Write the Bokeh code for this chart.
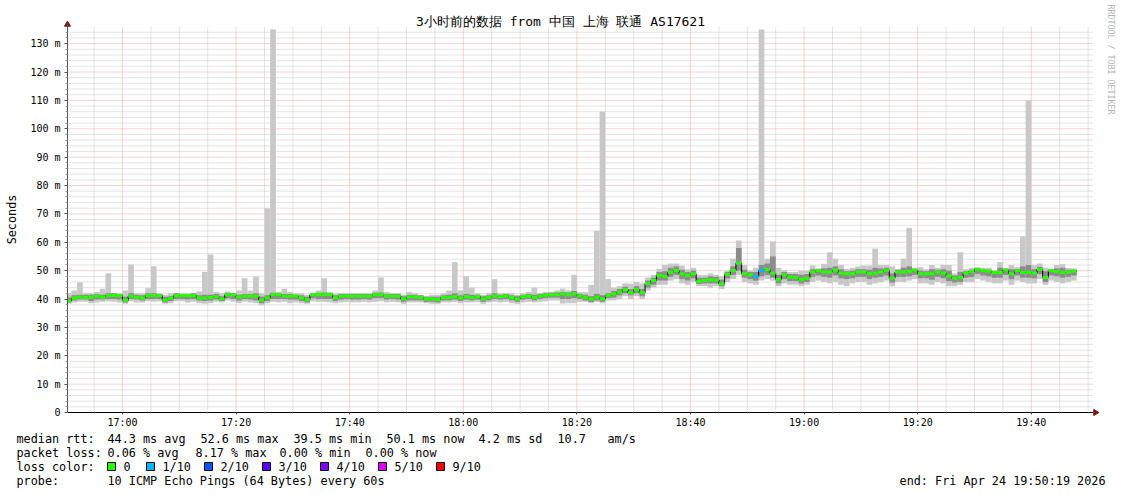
import math
from bokeh.plotting import figure
from bokeh.models import Range1d, FixedTicker, Label, ColumnDataSource
from bokeh.embed import file_html
from bokeh.resources import INLINE
from bokeh.core.properties import value

# ---------------- data ----------------
title_text = "3小时前的数据 from 中国 上海 联通 AS17621"

# one value per minute, bar j covers 16:50+j .. 16:51+j
median_ms = [
    39.3, 40.3, 40.6, 40.6, 40.6, 41.0, 40.6, 41.2, 41.2, 41.2,
    39.5, 41.0, 40.6, 40.3, 41.2, 41.2, 41.2, 39.6, 40.2, 41.2,
    41.2, 41.2, 41.2, 40.3, 40.3, 40.5, 40.8, 40.0, 41.5, 41.5,
    40.7, 41.0, 41.0, 41.0, 39.6, 40.3, 41.5, 41.5, 41.0, 41.0,
    41.0, 40.4, 39.7, 41.5, 41.5, 41.5, 41.5, 40.4, 41.0, 41.0,
    41.0, 41.0, 41.0, 41.0, 41.5, 41.5, 41.0, 41.0, 41.0, 40.0,
    40.7, 40.7, 40.5, 40.0, 40.0, 39.8, 40.5, 40.5, 40.8, 40.3,
    40.8, 40.5, 40.8, 40.0, 40.5, 41.0, 40.8, 41.0, 40.5, 40.0,
    40.8, 41.0, 40.5, 41.0, 41.3, 41.5, 41.5, 41.8, 41.5, 41.8,
    41.0, 40.6, 40.0, 40.6, 40.0, 41.2, 41.8, 42.4, 43.3, 42.2,
    43.3, 42.2, 45.4, 46.5, 48.3, 47.9, 49.4, 50.0, 48.8, 48.3,
    48.8, 46.2, 46.5, 46.7, 46.7, 45.3, 48.6, 50.0, 52.6, 48.9,
    48.5, 47.9, 50.0, 50.4, 49.1, 46.9, 48.5, 47.7, 47.5, 46.9,
    47.3, 49.5, 50.0, 49.5, 49.5, 50.2, 49.1, 48.9, 48.9, 49.5,
    49.5, 48.9, 49.1, 49.5, 50.0, 47.3, 49.5, 49.5, 49.7, 50.2,
    48.9, 48.9, 48.9, 49.5, 49.1, 48.1, 47.3, 47.6, 49.1, 49.7,
    50.5, 50.0, 49.8, 49.3, 49.3, 50.2, 48.9, 50.0, 49.3, 49.3,
    49.1, 50.4, 47.6, 50.0, 49.7, 49.3, 49.5, 49.8,
]
max_ms = [
    42.0, 43.0, 45.9, 42.0, 42.0, 42.5, 43.6, 49.1, 42.0, 42.0,
    43.0, 52.2, 42.0, 42.0, 43.8, 51.5, 42.0, 41.5, 42.0, 42.0,
    42.0, 42.0, 42.0, 42.6, 49.5, 55.7, 42.5, 42.0, 42.6, 42.0,
    43.0, 47.3, 43.0, 47.9, 42.0, 72.0, 135.0, 42.5, 43.6, 42.5,
    42.0, 42.0, 41.5, 42.0, 43.0, 47.3, 42.5, 42.0, 42.0, 42.0,
    42.0, 42.0, 42.0, 42.0, 43.0, 47.6, 42.5, 42.0, 42.0, 41.5,
    42.5, 42.0, 41.5, 41.0, 41.5, 41.5, 42.0, 43.0, 53.0, 43.0,
    48.0, 44.0, 42.0, 41.5, 42.0, 47.0, 42.0, 42.0, 42.0, 41.5,
    42.0, 42.5, 44.0, 42.0, 42.5, 42.5, 43.0, 43.7, 43.0, 48.5,
    42.4, 42.4, 45.0, 64.0, 106.0, 47.0, 44.0, 44.5, 45.5, 45.4,
    46.0, 45.5, 47.6, 48.5, 50.6, 52.0, 52.5, 52.5, 51.8, 50.5,
    51.0, 48.5, 48.5, 49.0, 48.5, 48.0, 50.0, 54.2, 60.6, 52.0,
    50.0, 51.0, 135.0, 54.2, 60.3, 51.0, 50.2, 49.5, 49.5, 50.0,
    50.0, 51.8, 50.8, 52.4, 56.5, 54.2, 52.0, 50.6, 51.0, 51.5,
    51.8, 51.8, 57.7, 52.0, 52.0, 51.5, 50.5, 54.2, 65.0, 51.0,
    51.2, 50.5, 52.0, 51.0, 52.0, 52.0, 49.0, 56.5, 50.5, 51.0,
    51.0, 51.0, 51.0, 50.2, 53.0, 51.0, 52.0, 51.2, 62.0, 110.0,
    52.0, 52.5, 51.0, 50.3, 52.0, 52.3, 51.0, 50.8,
]
min_ms = [
    38.3, 38.8, 39.0, 39.0, 38.5, 38.8, 39.0, 39.2, 39.0, 38.8,
    38.3, 39.2, 38.8, 38.8, 39.2, 39.0, 39.2, 38.3, 38.5, 39.2,
    39.2, 38.8, 39.0, 38.5, 38.3, 38.5, 39.0, 38.8, 39.5, 39.0,
    38.5, 39.0, 38.8, 38.5, 37.8, 38.5, 39.0, 38.8, 39.0, 38.5,
    38.8, 38.5, 38.3, 39.2, 39.0, 39.0, 38.8, 38.5, 38.8, 39.0,
    38.8, 38.8, 39.0, 38.8, 39.0, 39.2, 38.8, 39.0, 38.8, 38.3,
    38.8, 38.8, 38.8, 38.5, 38.3, 38.3, 38.8, 38.8, 39.0, 38.5,
    38.8, 38.8, 39.0, 38.3, 38.8, 39.0, 38.8, 39.0, 38.5, 38.3,
    38.8, 39.0, 38.8, 39.0, 39.2, 39.5, 39.5, 38.4, 38.5, 38.5,
    39.0, 39.0, 38.5, 39.0, 38.5, 39.5, 39.5, 40.0, 41.0, 40.0,
    41.0, 40.0, 43.0, 44.0, 45.0, 45.0, 46.5, 47.0, 45.5, 45.0,
    46.0, 44.5, 44.5, 44.0, 44.5, 43.5, 46.0, 47.0, 48.5, 46.0,
    45.5, 45.0, 46.5, 47.0, 46.5, 44.5, 45.5, 45.0, 45.0, 44.5,
    45.0, 46.0, 46.5, 46.0, 45.5, 46.0, 45.0, 44.5, 45.5, 46.0,
    46.0, 45.0, 45.5, 46.0, 46.5, 44.5, 46.0, 46.0, 46.5, 47.0,
    45.5, 45.5, 45.0, 46.0, 45.5, 44.5, 44.5, 45.0, 46.0, 46.0,
    47.0, 46.5, 46.0, 45.5, 45.5, 46.5, 45.0, 46.5, 46.0, 45.5,
    45.5, 47.0, 45.0, 46.5, 46.0, 45.5, 46.0, 46.5,
]
inner_lo_ms = [
    38.8, 39.5, 39.8, 39.8, 39.3, 39.8, 39.8, 40.0, 40.0, 39.8,
    38.8, 40.0, 39.8, 39.5, 40.0, 40.0, 40.0, 38.8, 39.3, 40.0,
    40.0, 39.8, 40.0, 39.5, 39.3, 39.5, 39.8, 39.3, 40.3, 40.0,
    39.5, 40.0, 39.8, 39.5, 38.5, 39.3, 40.0, 40.0, 40.0, 39.8,
    39.8, 39.3, 38.8, 40.3, 40.0, 40.0, 40.0, 39.3, 39.8, 40.0,
    39.8, 39.8, 40.0, 39.8, 40.3, 40.3, 39.8, 40.0, 39.8, 39.0,
    39.5, 39.5, 39.5, 39.0, 39.0, 38.8, 39.5, 39.5, 39.8, 39.3,
    39.8, 39.5, 39.8, 39.0, 39.5, 40.0, 39.8, 40.0, 39.5, 39.0,
    39.8, 40.0, 39.5, 40.0, 40.3, 40.5, 40.5, 40.0, 40.0, 40.3,
    40.0, 39.5, 39.0, 39.5, 39.0, 40.3, 40.5, 41.3, 42.0, 41.3,
    42.0, 41.0, 44.0, 45.0, 46.5, 46.5, 47.8, 48.5, 47.0, 46.5,
    47.3, 45.3, 45.5, 45.5, 45.5, 44.5, 47.3, 48.5, 50.0, 47.5,
    47.0, 46.5, 48.0, 48.5, 47.5, 45.5, 47.0, 46.3, 46.3, 45.5,
    46.0, 47.8, 48.3, 47.8, 47.5, 48.3, 47.3, 47.0, 47.3, 47.8,
    47.8, 47.0, 47.5, 47.8, 48.3, 45.8, 47.8, 47.8, 48.0, 48.5,
    47.3, 47.3, 46.8, 47.8, 47.3, 46.3, 45.8, 46.0, 47.5, 47.8,
    48.8, 48.3, 48.0, 47.5, 47.5, 48.5, 47.0, 48.3, 47.5, 47.5,
    47.3, 48.8, 46.0, 48.3, 48.0, 47.5, 47.8, 48.3,
]
inner_hi_ms = [
    40.5, 41.3, 41.5, 41.5, 41.5, 41.8, 41.5, 42.0, 42.0, 41.8,
    40.8, 42.0, 41.5, 41.3, 42.0, 42.0, 41.8, 40.8, 41.0, 42.0,
    41.8, 41.8, 42.0, 41.3, 41.5, 41.5, 41.8, 41.0, 42.2, 42.0,
    41.5, 41.8, 41.8, 42.0, 40.8, 41.3, 42.2, 42.0, 41.8, 41.8,
    41.5, 41.3, 40.8, 42.0, 42.2, 42.3, 42.0, 41.3, 41.8, 41.8,
    41.8, 41.8, 41.8, 41.8, 42.2, 42.3, 41.8, 41.8, 41.8, 41.0,
    41.5, 41.5, 41.3, 40.8, 40.8, 40.8, 41.3, 41.5, 42.0, 41.3,
    41.8, 41.5, 41.5, 41.0, 41.3, 42.0, 41.5, 41.8, 41.3, 41.0,
    41.5, 41.8, 41.5, 41.8, 42.0, 42.2, 42.3, 42.5, 42.3, 42.8,
    41.8, 41.5, 41.0, 41.8, 41.3, 42.0, 42.8, 43.5, 44.3, 43.5,
    44.5, 43.5, 46.5, 47.5, 49.5, 49.8, 51.0, 51.5, 50.3, 49.5,
    50.0, 47.5, 47.5, 48.0, 47.8, 46.8, 49.5, 51.5, 58.0, 50.3,
    49.5, 49.5, 52.0, 52.5, 55.0, 48.5, 49.5, 48.8, 48.8, 48.5,
    48.8, 50.5, 50.0, 50.8, 51.0, 51.5, 50.5, 49.8, 50.0, 50.5,
    50.5, 50.3, 51.0, 50.8, 51.0, 49.0, 50.3, 51.0, 51.5, 50.5,
    50.0, 49.8, 50.5, 50.3, 50.5, 50.0, 48.3, 49.5, 49.8, 50.3,
    50.5, 50.3, 50.3, 49.8, 51.0, 50.3, 50.5, 50.5, 51.5, 52.0,
    50.5, 51.3, 49.8, 50.3, 50.8, 51.0, 50.3, 50.3,
]
# lost pings out of 10 per minute
loss_tenths = [0] * 121 + [1, 1] + [0] * 55

x_tick_minutes = [10, 30, 50, 70, 90, 110, 130, 150, 170]
x_tick_labels = ["17:00", "17:20", "17:40", "18:00", "18:20", "18:40", "19:00", "19:20", "19:40"]
x_minor_minutes = [5, 15, 20, 25, 35, 40, 45, 55, 60, 65, 75, 80, 85, 95, 100, 105, 115, 120,
                   125, 135, 140, 145, 155, 160, 165, 175, 180]
y_tick_values = [0, 10, 20, 30, 40, 50, 60, 70, 80, 90, 100, 110, 120, 130]
y_tick_labels = ["0", "10 m", "20 m", "30 m", "40 m", "50 m", "60 m", "70 m", "80 m",
                 "90 m", "100 m", "110 m", "120 m", "130 m"]
y_minor_values = [v for v in range(2, 136, 2) if v % 10 != 0]

median_stats = ["44.3 ms avg", "52.6 ms max", "39.5 ms min", "50.1 ms now", "4.2 ms sd", "10.7", "am/s"]
loss_stats = ["0.06 % avg", "8.17 % max", "0.00 % min", "0.00 % now"]
loss_names = ["0", "1/10", "2/10", "3/10", "4/10", "5/10", "9/10"]
loss_palette = ["#26ff00", "#00b8ff", "#0059ff", "#5e00ff", "#7e00ff", "#dd00ff", "#ff0000"]
probe_text = "10 ICMP Echo Pings (64 Bytes) every 60s"
end_text = "end: Fri Apr 24 19:50:19 2026"

# ---------------- geometry (page pixels) ----------------
W, H = 1121, 494
FL, FR, FT, FB = 67, 1092, 27, 412          # chart area
PX_PER_MIN = 5.68
PX_PER_MS = 2.8375
X0 = 19 / 60.0                               # 16:50:19, minutes after 16:50


def dx(px):
    return X0 + (px - FL) / PX_PER_MIN


def dy(py):
    return (FB - py) / PX_PER_MS


XR, YT = dx(FR), dy(FT)
MONO = "DejaVu Sans Mono"

p = figure(width=W, height=H, x_range=Range1d(dx(0), dx(W)), y_range=Range1d(dy(H), dy(0)),
           output_backend="svg", toolbar_location=None, title=None,
           min_border_left=0, min_border_right=0, min_border_top=0, min_border_bottom=0)
p.outline_line_color = None
p.background_fill_color = "white"
p.border_fill_color = "white"
p.grid.visible = False

# grid (dotted), limited to the chart area
p.segment(x0=x_minor_minutes, y0=[0] * len(x_minor_minutes), x1=x_minor_minutes,
          y1=[YT] * len(x_minor_minutes), line_color="#c8c8c8", line_dash="1 1", line_width=1)
p.segment(x0=[X0] * len(y_minor_values), y0=y_minor_values, x1=[XR] * len(y_minor_values),
          y1=y_minor_values, line_color="#c8c8c8", line_dash="1 1", line_width=1)
p.segment(x0=x_tick_minutes, y0=[0] * len(x_tick_minutes), x1=x_tick_minutes,
          y1=[YT] * len(x_tick_minutes), line_color="#f4a4a4", line_dash="1 1", line_width=1)
p.segment(x0=[X0] * len(y_tick_values[1:]), y0=y_tick_values[1:], x1=[XR] * len(y_tick_values[1:]),
          y1=y_tick_values[1:], line_color="#f4a4a4", line_dash="1 1", line_width=1)

# axes at fixed locations
p.xaxis.fixed_location = 0
p.xaxis.bounds = (X0, dx(1093))
p.yaxis.fixed_location = X0
p.yaxis.bounds = (0, dy(23))
p.xaxis.ticker = FixedTicker(ticks=x_tick_minutes, minor_ticks=x_minor_minutes)
p.xaxis.major_label_overrides = dict(zip(x_tick_minutes, x_tick_labels))
p.yaxis.ticker = FixedTicker(ticks=y_tick_values, minor_ticks=y_minor_values)
p.yaxis.major_label_overrides = dict(zip(y_tick_values, y_tick_labels))
for ax in (p.xaxis[0], p.yaxis[0]):
    ax.major_label_text_font = MONO
    ax.major_label_text_font_size = "10px"
    ax.major_label_text_color = "#000000"
    ax.major_tick_line_color = "#555555"
    ax.minor_tick_line_color = "#999999"
    ax.major_tick_in = 0
    ax.minor_tick_in = 0
p.xaxis.axis_line_color = "#000000"
p.yaxis.axis_line_color = "#555555"
p.xaxis.major_tick_out = 2
p.xaxis.minor_tick_out = 1
p.xaxis.major_label_standoff = 2
p.yaxis.major_tick_out = 3
p.yaxis.minor_tick_out = 2
p.yaxis.major_label_standoff = 4

# smoke and median
n = len(median_ms)
left = [max(m, X0) for m in range(n)]
right = [m + 1 for m in range(n)]
src = ColumnDataSource(dict(
    left=left, right=right, lo=min_ms, hi=max_ms, ilo=inner_lo_ms, ihi=inner_hi_ms,
    mlo=[v - 0.5 for v in median_ms], mhi=[v + 0.55 for v in median_ms],
    color=[loss_palette[k] for k in loss_tenths],
))
p.quad(left="left", right="right", bottom="lo", top="hi", source=src,
       fill_color="#c8c8c8", line_color=None)
p.quad(left="left", right="right", bottom="ilo", top="ihi", source=src,
       fill_color="#8c8c8c", line_color=None)
p.step(x=left + [n], y=median_ms + [median_ms[-1]], mode="after",
       line_color="#000000", line_width=1)
p.quad(left="left", right="right", bottom="mlo", top="mhi", source=src,
       fill_color="color", line_color=None)

# arrow heads at the axis ends
head_col = "#7f1414"
p.scatter(x=[X0], y=[dy(24)], marker="triangle", size=6, fill_color=head_col, line_color=head_col)
p.scatter(x=[dx(1095)], y=[0], marker="triangle", angle=-math.pi / 2, size=6,
          fill_color=head_col, line_color=head_col)

# texts around the chart
p.add_layout(Label(x=dx(560), y=dy(21), text=title_text, text_align="center",
                   text_baseline="middle", text_font=MONO, text_font_size="13px",
                   text_color="#000000"))
p.add_layout(Label(x=dx(11), y=dy(219), text="Seconds", angle=math.pi / 2,
                   text_align="center", text_baseline="middle", text_font=MONO,
                   text_font_size="11.8px", text_color="#000000"))
p.add_layout(Label(x=dx(1110.5), y=dy(59), text="RRDTOOL / TOBI OETIKER", angle=-math.pi / 2,
                   text_align="center", text_baseline="middle", text_font=MONO,
                   text_font_size="8.3px", text_color="#b4b4b4"))

# legend block
ROW = [438, 452, 466, 480]
tx, ty, tt = [], [], []
tx.append(16); ty.append(ROW[0]); tt.append("median rtt:")
for xx, s in zip([107, 200, 293, 386, 478, 557, 607], median_stats):
    tx.append(xx); ty.append(ROW[0]); tt.append(s)
tx.append(16); ty.append(ROW[1]); tt.append("packet loss:")
for xx, s in zip([107, 195, 279, 365], loss_stats):
    tx.append(xx); ty.append(ROW[1]); tt.append(s)
tx.append(16); ty.append(ROW[2]); tt.append("loss color:")
box_x = [107, 146, 204, 262, 320, 378, 436]
for xx, s in zip(box_x, loss_names):
    tx.append(xx + 16); ty.append(ROW[2]); tt.append(s)
tx += [16, 107]; ty += [ROW[3], ROW[3]]; tt += ["probe:", probe_text]
p.text(x=[dx(v) for v in tx], y=[dy(v) for v in ty], text=tt, text_font=value(MONO),
       text_font_size=value("11.8px"), text_baseline="middle", text_align="left",
       text_color="#000000")
p.text(x=[dx(1105)], y=[dy(ROW[3])], text=[end_text], text_font=value(MONO),
       text_font_size=value("11.8px"), text_baseline="middle", text_align="right",
       text_color="#000000")
p.quad(left=[dx(b) for b in box_x], right=[dx(b + 8) for b in box_x],
       top=[dy(ROW[2] - 4)] * 7, bottom=[dy(ROW[2] + 4)] * 7,
       fill_color=loss_palette, line_color="#000000", line_width=1)

open("out.html", "w").write(file_html(p, INLINE))
